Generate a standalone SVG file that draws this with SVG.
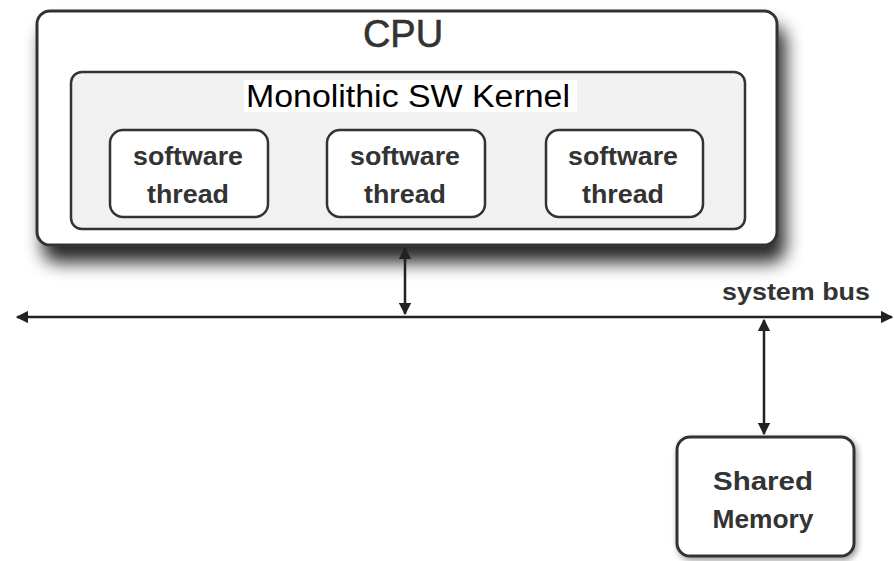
<svg xmlns="http://www.w3.org/2000/svg" width="894" height="561" viewBox="0 0 894 561">
  <defs>
    <filter id="shadow" x="-10%" y="-15%" width="125%" height="160%">
      <feGaussianBlur in="SourceAlpha" stdDeviation="9"/>
      <feOffset dx="7" dy="16" result="b"/>
      <feComponentTransfer><feFuncA type="linear" slope="0.85"/></feComponentTransfer>
      <feMerge><feMergeNode/><feMergeNode in="SourceGraphic"/></feMerge>
    </filter>
    <filter id="softShadow" x="-15%" y="-15%" width="140%" height="140%">
      <feGaussianBlur in="SourceAlpha" stdDeviation="3"/>
      <feOffset dx="2" dy="3" result="b"/>
      <feComponentTransfer><feFuncA type="linear" slope="0.4"/></feComponentTransfer>
      <feMerge><feMergeNode/><feMergeNode in="SourceGraphic"/></feMerge>
    </filter>
    <marker id="arrow" viewBox="0 0 10 10" refX="9" refY="5" markerWidth="5" markerHeight="5" orient="auto-start-reverse">
      <path d="M0,0 L10,5 L0,10 z" fill="#222"/>
    </marker>
  </defs>
  <style>
    .box { fill: #fff; stroke: #333; stroke-width: 3; }
    .kernel { fill: #f1f1f1; stroke: #333; stroke-width: 2.5; }
    .thread { fill: #fff; stroke: #333; stroke-width: 2.5; }
    .soft { font-family: "Liberation Sans", Arial, sans-serif; font-weight: bold; fill: #333; text-anchor: middle; }
    .wire { stroke: #222; stroke-width: 2.5; fill: none; }
  </style>

  <rect width="894" height="561" fill="#fff"/>

  <g id="cpu">
    <rect class="box" x="37" y="11" width="740" height="234" rx="13" filter="url(#shadow)"/>
    <text x="403" y="47" font-family="Liberation Sans, Arial, sans-serif" font-size="38" fill="#333" stroke="#333" stroke-width="0.6" text-anchor="middle">CPU</text>
  </g>

  <g id="kernel">
    <rect class="kernel" x="71" y="72" width="674" height="157" rx="11"/>
    <rect x="244" y="80" width="333" height="32" fill="#fff"/>
    <text x="408" y="107" font-family="Liberation Sans, Arial, sans-serif" font-size="31" fill="#000" text-anchor="middle" textLength="324" lengthAdjust="spacingAndGlyphs">Monolithic SW Kernel</text>
  </g>

  <g id="thread1">
    <rect class="thread" x="110" y="130" width="158" height="87" rx="13"/>
    <text class="soft" x="188" y="165" font-size="25" textLength="110" lengthAdjust="spacingAndGlyphs">software</text>
    <text class="soft" x="188" y="203" font-size="25" textLength="82" lengthAdjust="spacingAndGlyphs">thread</text>
  </g>
  <g id="thread2">
    <rect class="thread" x="327" y="130" width="158" height="87" rx="13"/>
    <text class="soft" x="405" y="165" font-size="25" textLength="110" lengthAdjust="spacingAndGlyphs">software</text>
    <text class="soft" x="405" y="203" font-size="25" textLength="82" lengthAdjust="spacingAndGlyphs">thread</text>
  </g>
  <g id="thread3">
    <rect class="thread" x="546" y="130" width="157" height="87" rx="13"/>
    <text class="soft" x="623" y="165" font-size="25" textLength="110" lengthAdjust="spacingAndGlyphs">software</text>
    <text class="soft" x="623" y="203" font-size="25" textLength="82" lengthAdjust="spacingAndGlyphs">thread</text>
  </g>

  <g id="memory">
    <rect class="box" x="677" y="437" width="177" height="119" rx="13" filter="url(#softShadow)"/>
    <text class="soft" x="763" y="490" font-size="25" textLength="100" lengthAdjust="spacingAndGlyphs">Shared</text>
    <text class="soft" x="763" y="528" font-size="25" textLength="101" lengthAdjust="spacingAndGlyphs">Memory</text>
  </g>

  <g id="connectors">
    <line class="wire" x1="17" y1="317" x2="892" y2="317" marker-start="url(#arrow)" marker-end="url(#arrow)"/>
    <line class="wire" x1="405" y1="248" x2="405" y2="314" marker-start="url(#arrow)" marker-end="url(#arrow)"/>
    <line class="wire" x1="764" y1="320" x2="764" y2="434" marker-start="url(#arrow)" marker-end="url(#arrow)"/>
    <text class="soft" x="796" y="300" font-size="24" textLength="148" lengthAdjust="spacingAndGlyphs">system bus</text>
  </g>
</svg>
